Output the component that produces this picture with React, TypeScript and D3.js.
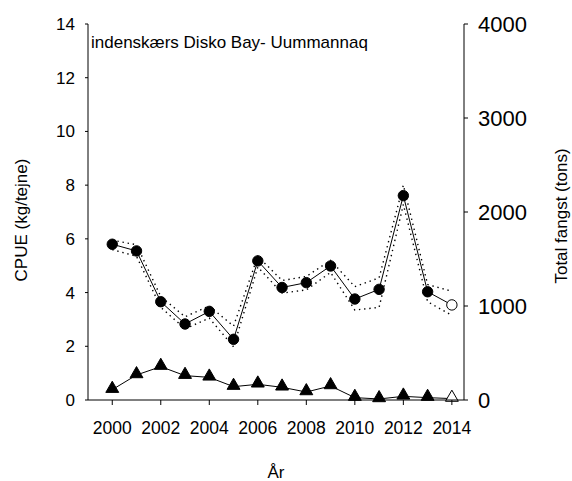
import React from "react";
import * as d3 from "d3";

const years = [2000, 2001, 2002, 2003, 2004, 2005, 2006, 2007, 2008, 2009, 2010, 2011, 2012, 2013, 2014];
const cpue = [5.8, 5.55, 3.66, 2.83, 3.3, 2.26, 5.18, 4.19, 4.37, 4.99, 3.76, 4.12, 7.61, 4.03, 3.54];
const cpueUpper = [5.95, 5.78, 3.85, 3.1, 3.5, 2.75, 5.35, 4.45, 4.6, 5.2, 4.22, 4.55, 8.0, 4.3, 4.05];
const cpueLower = [5.6, 5.35, 3.45, 2.65, 3.05, 1.98, 4.95, 3.98, 4.1, 4.75, 3.35, 3.45, 7.28, 3.66, 3.15];
const catchTons = [110, 266, 355, 259, 241, 142, 167, 135, 85, 149, 25, 11, 39, 25, 15];
const xTicks = [2000, 2002, 2004, 2006, 2008, 2010, 2012, 2014];
const leftTicks = [0, 2, 4, 6, 8, 10, 12, 14];
const rightTicks = [0, 1000, 2000, 3000, 4000];
const openYear = 2014;

const title = "indenskærs Disko Bay- Uummannaq";
const leftLabel = "CPUE (kg/tejne)";
const rightLabel = "Total fangst (tons)";
const xLabel = "År";

export default function App() {
  const W = 572, H = 481;
  const L = 88, R = 464, T = 24, B = 400;
  const x = d3.scaleLinear().domain([1999, 2014.5]).range([L, R]);
  const yL = d3.scaleLinear().domain([0, 14]).range([B, T]);
  const yR = d3.scaleLinear().domain([0, 4000]).range([B, T]);
  const font = "'Liberation Sans', Arial, sans-serif";

  const lineL = d3.line<number>().x((_, i) => x(years[i])).y((d) => yL(d));
  const lineR = d3.line<number>().x((_, i) => x(years[i])).y((d) => yR(d));
  const tri = d3.symbol().type(d3.symbolTriangle).size(72)();

  return (
    <svg width={W} height={H} style={{ position: "absolute", left: 0, top: 0 }} fontFamily={font}>
      <rect width={W} height={H} fill="#fff" />
      <path d={lineL(cpueUpper) || ""} fill="none" stroke="#000" strokeWidth={1.4} strokeDasharray="1.4 3.8" />
      <path d={lineL(cpueLower) || ""} fill="none" stroke="#000" strokeWidth={1.4} strokeDasharray="1.4 3.8" />
      <path d={lineL(cpue) || ""} fill="none" stroke="#000" strokeWidth={1} />
      <path d={lineR(catchTons) || ""} fill="none" stroke="#000" strokeWidth={1} />
      {cpue.map((v, i) => (
        <circle key={"c" + i} cx={x(years[i])} cy={yL(v)} r={5.2}
          fill={years[i] === openYear ? "#fff" : "#000"} stroke="#000" strokeWidth={1} />
      ))}
      {catchTons.map((v, i) => (
        <path key={"t" + i} d={tri || ""} transform={`translate(${x(years[i])},${yR(v) - 1})`}
          fill={years[i] === openYear ? "#fff" : "#000"} stroke="#000" strokeWidth={1} />
      ))}
      <line x1={L} x2={L} y1={T} y2={B} stroke="#000" />
      <line x1={R} x2={R} y1={T} y2={B} stroke="#000" />
      <line x1={L} x2={R} y1={B} y2={B} stroke="#000" />
      {leftTicks.map((t) => (
        <g key={"l" + t}>
          <line x1={L - 3} x2={L} y1={yL(t)} y2={yL(t)} stroke="#000" />
          <text x={L - 13} y={yL(t) + 6} fontSize={17} textAnchor="end">{t}</text>
        </g>
      ))}
      {rightTicks.map((t) => (
        <g key={"r" + t}>
          <line x1={R} x2={R + 4} y1={yR(t)} y2={yR(t)} stroke="#000" />
          <text x={R + 14} y={yR(t) + 8} fontSize={22} textAnchor="start">{t}</text>
        </g>
      ))}
      {xTicks.map((t) => (
        <g key={"x" + t}>
          <line x1={x(t)} x2={x(t)} y1={B} y2={B + 5} stroke="#000" />
          <text x={x(t)} y={434} fontSize={17.5} textAnchor="middle">{t}</text>
        </g>
      ))}
      <text x={91} y={48} fontSize={17}>{title}</text>
      <text transform={`translate(27,220) rotate(-90)`} fontSize={17} textAnchor="middle">{leftLabel}</text>
      <text transform={`translate(567,216) rotate(-90)`} fontSize={17} textAnchor="middle">{rightLabel}</text>
      <text x={276} y={478} fontSize={17} textAnchor="middle">{xLabel}</text>
    </svg>
  );
}
